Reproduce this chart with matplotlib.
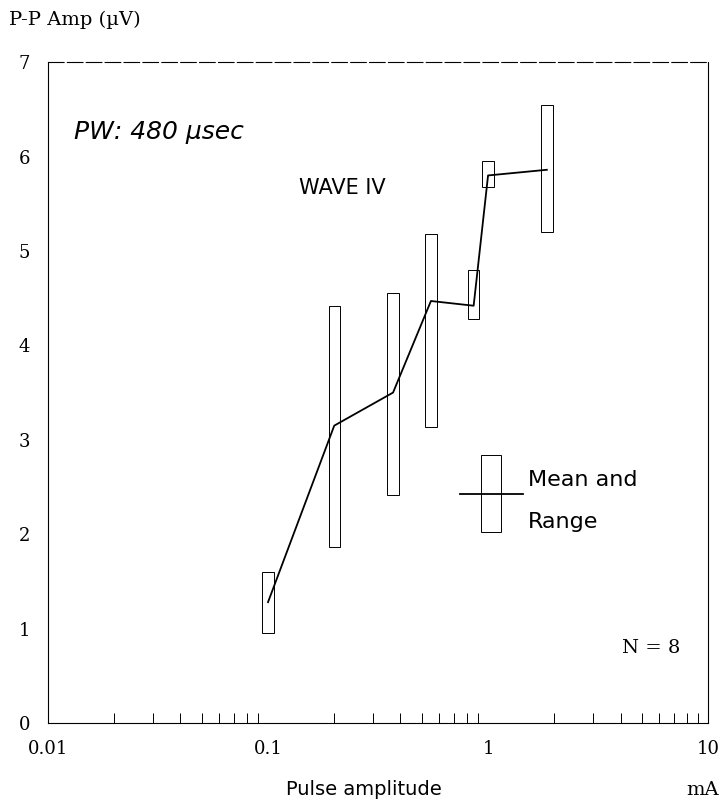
from matplotlib import pyplot as plt
import numpy as np

# pulse amplitude (mA), mean and range of P-P amplitude (uV)
current = [0.1, 0.2, 0.37, 0.55, 0.86, 1.0, 1.85]
mean_amp = [1.28, 3.15, 3.5, 4.47, 4.42, 5.8, 5.86]
low_amp = [0.95, 1.86, 2.42, 3.14, 4.28, 5.68, 5.2]
high_amp = [1.6, 4.42, 4.55, 5.18, 4.8, 5.95, 6.55]

xtick_vals = [0.01, 0.1, 1, 10]
xtick_text = ['0.01', '0.1', '1', '10']
ytick_vals = [0, 1, 2, 3, 4, 5, 6, 7]

serif = 'DejaVu Serif'
fig = plt.figure(figsize=(7.27, 8.02), dpi=100)
ax = fig.add_axes([0.066, 0.0985, 0.908, 0.824])

ax.set_xscale('log')
ax.set_xlim(0.01, 10)
ax.set_ylim(0, 7)

# range boxes, half width in decades
hw = 0.026
x = np.array(current)
left = x * 10 ** (-hw)
right = x * 10 ** hw
lo = np.array(low_amp)
hi = np.array(high_amp)
ax.bar(left, hi - lo, width=right - left, bottom=lo, align='edge',
       fill=False, edgecolor='black', linewidth=0.7)
ax.plot(current, mean_amp, color='black', linewidth=1.3)

for s in ax.spines.values():
    s.set_linewidth(0.8)
ax.spines['top'].set_linestyle((0, (14, 3)))

ax.set_xticks(xtick_vals)
ax.set_xticklabels(xtick_text, fontfamily=serif, fontsize=13)
ax.set_yticks(ytick_vals)
ax.set_yticklabels([str(v) for v in ytick_vals], fontfamily=serif, fontsize=13)
ax.tick_params(axis='x', which='major', direction='in', length=0, pad=12)
ax.tick_params(axis='x', which='minor', direction='in', length=7, width=0.7)
ax.tick_params(axis='y', length=0, pad=13)
ax.xaxis.set_minor_formatter(plt.NullFormatter())

# legend glyph
ax.add_patch(plt.Rectangle((0.656, 0.289), 0.03, 0.116, transform=ax.transAxes,
                           fill=False, edgecolor='black', linewidth=0.7))
ax.plot([0.624, 0.72], [0.346, 0.346], transform=ax.transAxes,
        color='black', linewidth=1.3)
ax.text(0.727, 0.368, 'Mean and', transform=ax.transAxes, fontsize=16,
        fontfamily='DejaVu Sans', va='center')
ax.text(0.727, 0.304, 'Range', transform=ax.transAxes, fontsize=16,
        fontfamily='DejaVu Sans', va='center')

ax.text(0.04, 0.895, 'PW: 480 µsec', transform=ax.transAxes, fontsize=18,
        style='italic', va='center')
ax.text(0.38, 0.81, 'WAVE IV', transform=ax.transAxes, fontsize=15,
        va='center')
ax.text(0.87, 0.113, 'N = 8', transform=ax.transAxes, fontsize=14,
        fontfamily=serif, va='center')

fig.text(0.012, 0.975, 'P-P Amp (µV)', fontsize=14, fontfamily=serif, va='center')
fig.text(0.5, 0.015, 'Pulse amplitude', fontsize=14, fontfamily='DejaVu Sans',
         ha='center', va='center')
fig.text(0.967, 0.015, 'mA', fontsize=14, fontfamily=serif, ha='center', va='center')

fig.savefig('out.png', dpi=100)
